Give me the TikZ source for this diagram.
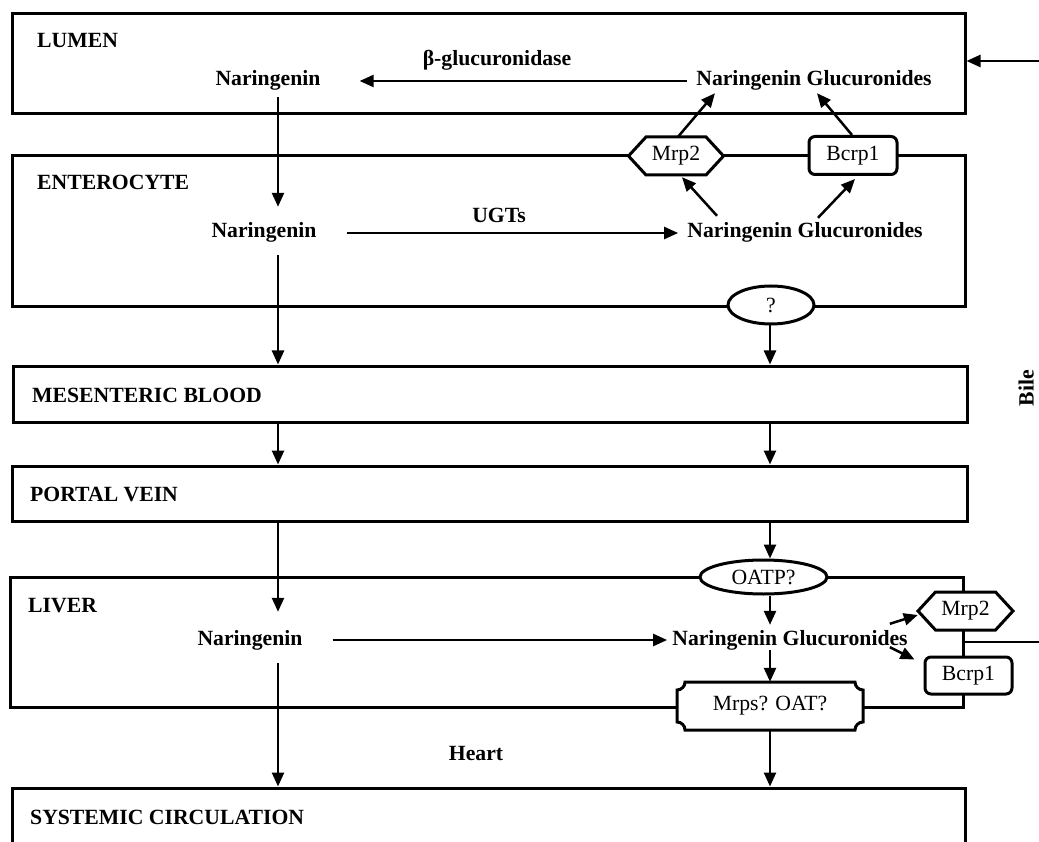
\documentclass[tikz,border=0pt]{standalone}
\usepackage{fontspec}
\setmainfont{Liberation Serif}
\usetikzlibrary{arrows.meta,shapes.geometric}
\tikzset{
  box/.style={draw,line width=3pt,inner sep=0pt},
  lbl/.style={font=\fontsize{21.7pt}{26pt}\selectfont\bfseries,inner sep=0pt,text height=15pt,text depth=5pt},
  ttl/.style={lbl,anchor=west},
  shp/.style={draw,fill=white,line width=3pt,inner sep=0pt,font=\fontsize{21.7pt}{26pt}\selectfont},
  shptxt/.style={font=\fontsize{21.7pt}{26pt}\selectfont,inner sep=0pt},
  arr/.style={line width=2.5pt,-{Triangle[length=14pt,width=12pt]}},
  ln/.style={line width=2.5pt},
  hexa/.pic={
    \path[shp] (-47.5,0) -- (-30,-19) -- (30,-19) -- (47.5,0) -- (30,19) -- (-30,19) -- cycle;
    \node[shptxt,minimum width=95pt,minimum height=38pt] (-b) {#1};
  },
  notch/.pic={
    \path[shp] (-85,-24) -- (85,-24) arc (180:90:8) -- (93,16) arc (270:180:8)
      -- (-85,24) arc (360:270:8) -- (-93,-16) arc (90:0:8) -- cycle;
    \node[shptxt,minimum width=186pt,minimum height=48pt] (-b) {#1};
  }
}
\begin{document}
\begin{tikzpicture}[x=1pt,y=-1pt]
\useasboundingbox (0,0) rectangle (1039,842);
\clip (0,0) rectangle (1039,842);
\coordinate (cL) at (278,0);
\coordinate (cR) at (770,0);

% compartments
\node[box,minimum width=953pt,minimum height=100pt] (lum) at (488.5,64) {};
\node[box,minimum width=953pt,minimum height=151pt] (ent) at (488.5,231.5) {};
\node[box,minimum width=954pt,minimum height=56pt] (mes) at (490,394) {};
\node[box,minimum width=955pt,minimum height=55pt] (por) at (489.5,493.5) {};
\node[box,minimum width=953pt,minimum height=130pt] (liv) at (486.5,642) {};
\node[box,minimum width=953pt,minimum height=120pt] (sys) at (488.5,848) {};

% titles
\node[ttl] (tLum) at (37,43) {LUMEN};
\node[ttl] (tEnt) at (37,185) {ENTEROCYTE};
\node[ttl] (tMes) at (32,397) {MESENTERIC BLOOD};
\node[ttl] (tPor) at (30,496) {PORTAL VEIN};
\node[ttl] (tLiv) at (28,607) {LIVER};
\node[ttl] (tSys) at (30,819) {SYSTEMIC CIRCULATION};

% species
\node[lbl] (lumNar) at (268,81) {Naringenin};
\node[lbl] (lumNG) at (814,81) {Naringenin Glucuronides};
\node[lbl] (beta) at (497,61) {β-glucuronidase};
\node[lbl] (entNar) at (264,233) {Naringenin};
\node[lbl] (entNG) at (805,233) {Naringenin Glucuronides};
\node[lbl] (ugt) at (499,218) {UGTs};
\node[lbl] (livNar) at (250,640) {Naringenin};
\node[lbl] (livNG) at (790,640) {Naringenin Glucuronides};
\node[lbl] (heart) at (476,755) {Heart};
\node[lbl,text depth=0pt,rotate=90] (bile) at (1026,388) {Bile};

% transporters
\pic (mrpE) at (676,156) {hexa=Mrp2};
\node[shp,rounded corners=6pt,minimum width=88pt,minimum height=38pt] (bcrpE) at (853,155.5) {Bcrp1};
\node[shp,ellipse,minimum width=86pt,minimum height=38pt] (q) at (771,305) {?};
\node[shp,ellipse,minimum width=127pt,minimum height=34pt] (oatp) at (763.5,577) {OATP?};
\pic (mrpL) at (965.5,611) {hexa=Mrp2};
\node[shp,rounded corners=6pt,minimum width=87pt,minimum height=37pt] (bcrpL) at (968.5,675.5) {Bcrp1};
\pic (mrps) at (770,706) {notch={Mrps? OAT?}};

% arrows
\draw[arr,shorten <=9pt,shorten >=39pt] (lumNG.west) -- (lumNar.east);
\draw[arr,shorten <=6pt,shorten >=16pt] (lumNar.south -| cL) -- (entNar.north -| cL);
\draw[arr,shorten <=30pt,shorten >=9pt] (entNar.east) -- (entNG.west);
\draw[arr,shorten <=12pt] (entNar.south -| cL) -- (mes.north -| cL);
\draw[arr] (q.south -| cR) -- (mes.north -| cR);
\draw[arr] (mes.south -| cL) -- (por.north -| cL);
\draw[arr] (mes.south -| cR) -- (por.north -| cR);
\draw[arr,shorten >=18pt] (por.south -| cL) -- (livNar.north -| cL);
\draw[arr] (por.south -| cR) -- (oatp.north -| cR);
\draw[arr,shorten >=5pt] (oatp.south -| cR) -- (livNG.north -| cR);
\draw[arr] (livNG.south -| cR) -- (mrps-b.north -| cR);
\draw[arr,shorten <=30pt,shorten >=5pt] (livNar.east) -- (livNG.west);
\draw[arr,shorten <=13pt] (livNar.south -| cL) -- (sys.north -| cL);
\draw[arr] (mrps-b.south -| cR) -- (sys.north -| cR);

\draw[arr] ([xshift=-88pt,yshift=7pt]entNG.north) -- ([xshift=6pt,yshift=-2pt]mrpE-b.south);
\draw[arr] ([xshift=13pt,yshift=5pt]entNG.north) -- ([xshift=2pt,yshift=-3pt]bcrpE.south);
\draw[arr] ([xshift=2pt]mrpE-b.north) -- ([xshift=-99pt,yshift=-2pt]lumNG.south);
\draw[arr] ([xshift=-1pt]bcrpE.north) -- ([xshift=3pt,yshift=-2pt]lumNG.south);
\draw[arr] ([xshift=-18pt,yshift=6pt]livNG.north east) -- ([yshift=-4pt]mrpL-b.west);
\draw[arr] ([xshift=-18pt,yshift=3pt]livNG.south east) -- ([xshift=-9pt,yshift=-4pt]bcrpL.north west);

% bile
\coordinate (bileTop) at (1050,61);
\coordinate (bileBot) at (1050,642);
\draw[arr] (bileTop) -- (bileTop -| lum.east);
\draw[ln] (liv.east) -- (bileBot);
\end{tikzpicture}
\end{document}
